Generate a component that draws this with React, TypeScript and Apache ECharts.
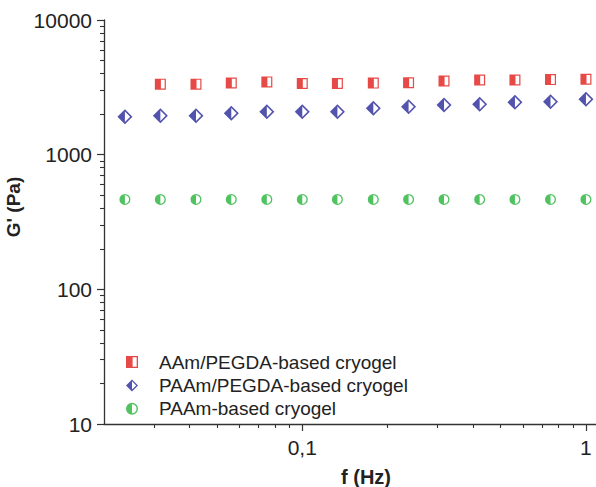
import React, { useEffect, useRef } from "react";
import * as echarts from "echarts";

// Frequencies (Hz)
const freqAAmPEGDA = [0.0316, 0.0422, 0.0562, 0.075, 0.1, 0.133, 0.178, 0.237, 0.316, 0.422, 0.562, 0.75, 1.0];
const freqPAAmPEGDA = [0.0237, 0.0316, 0.0422, 0.0562, 0.075, 0.1, 0.133, 0.178, 0.237, 0.316, 0.422, 0.562, 0.75, 1.0];
const freqPAAm = [0.0237, 0.0316, 0.0422, 0.0562, 0.075, 0.1, 0.133, 0.178, 0.237, 0.316, 0.422, 0.562, 0.75, 1.0];

// G' (Pa)
const gAAmPEGDA = [3340, 3340, 3410, 3470, 3380, 3380, 3400, 3420, 3520, 3580, 3580, 3610, 3630];
const gPAAmPEGDA = [1910, 1945, 1945, 2026, 2083, 2083, 2083, 2207, 2268, 2335, 2364, 2446, 2471, 2574];
const gPAAm = [465, 465, 465, 465, 465, 465, 465, 465, 465, 465, 465, 465, 465, 465];

const seriesNames = ["AAm/PEGDA-based cryogel", "PAAm/PEGDA-based cryogel", "PAAm-based cryogel"];

const xTickValues = [0.1, 1];
const xTickLabels = ["0,1", "1"];
const xMinorTicks = [0.03, 0.04, 0.05, 0.06, 0.07, 0.08, 0.09, 0.2, 0.3, 0.4, 0.5, 0.6, 0.7, 0.8, 0.9];
const yTickValues = [10, 100, 1000, 10000];
const yTickLabels = ["10", "100", "1000", "10000"];
const yMinorTicks = [20, 30, 40, 50, 60, 70, 80, 90, 200, 300, 400, 500, 600, 700, 800, 900, 2000, 3000, 4000, 5000, 6000, 7000, 8000, 9000];

const RED = "#e11d18";
const BLUE = "#272899";
const GREEN = "#24b338";
const FONT = "'Liberation Sans', Arial, sans-serif";
const AXIS_COLOR = "#333";

// Half-filled symbols (left half filled, right half outlined)
const SQUARE = "path://M0 0L100 0L100 100L0 100Z M11 11L11 89L89 89L89 11Z M0 0L55 0L55 100L0 100Z";
const DIAMOND = "path://M50 0L100 50L50 100L0 50Z M50 15L15 50L50 85L85 50Z M50 0L50 100L0 50Z";
const CIRCLE =
  "path://M50 0A50 50 0 0 1 50 100A50 50 0 0 1 50 0Z M50 12A38 38 0 0 0 50 88A38 38 0 0 0 50 12Z M50 0L50 100A50 50 0 0 1 50 0Z";

function labelFor(values: number[], labels: string[], v: number): string {
  let best = 0;
  for (let i = 1; i < values.length; i++) {
    if (Math.abs(Math.log10(values[i]) - Math.log10(v)) < Math.abs(Math.log10(values[best]) - Math.log10(v))) best = i;
  }
  return labels[best];
}

export default function App() {
  const ref = useRef<HTMLDivElement>(null);
  useEffect(() => {
    document.body.style.margin = "0";
    if (!ref.current) return;
    const chart = echarts.init(ref.current, null, { renderer: "svg" });
    const xMin = 0.02;
    const xMax = 1.085;
    const option: any = {
      animation: false,
      backgroundColor: "#fff",
      grid: { left: 104, right: 0, top: 20, bottom: 63, containLabel: false, outerBoundsMode: "none" },
      xAxis: [
        {
          type: "log",
          min: xMin,
          max: xMax,
          position: "bottom",
          name: "f (Hz)",
          nameLocation: "middle",
          nameGap: 43,
          nameTextStyle: { fontFamily: FONT, fontSize: 20, fontWeight: "bold", color: "#222", padding: [0, 0, 0, 32] },
          axisLine: { lineStyle: { color: AXIS_COLOR, width: 1.3 } },
          axisTick: { customValues: xTickValues, length: 7, lineStyle: { color: AXIS_COLOR, width: 1.2 } },
          axisLabel: {
            customValues: xTickValues,
            formatter: (v: number) => labelFor(xTickValues, xTickLabels, v),
            fontFamily: FONT,
            fontSize: 21,
            color: "#222",
            margin: 13,
          },
          splitLine: { show: false },
        },
        {
          type: "log",
          min: xMin,
          max: xMax,
          position: "bottom",
          axisLine: { show: false },
          axisTick: { customValues: xMinorTicks, length: 4, lineStyle: { color: AXIS_COLOR, width: 1.1 } },
          axisLabel: { show: false },
          splitLine: { show: false },
        },
      ],
      yAxis: [
        {
          type: "log",
          min: 10,
          max: 10000,
          position: "left",
          name: "G' (Pa)",
          nameLocation: "middle",
          nameGap: 65,
          nameTextStyle: { fontFamily: FONT, fontSize: 19, fontWeight: "bold", color: "#222", padding: [0, 0, 0, 30] },
          axisLine: { show: true, lineStyle: { color: AXIS_COLOR, width: 1.3 } },
          axisTick: { show: true, customValues: yTickValues, length: 7, lineStyle: { color: AXIS_COLOR, width: 1.2 } },
          axisLabel: {
            customValues: yTickValues,
            formatter: (v: number) => labelFor(yTickValues, yTickLabels, v),
            fontFamily: FONT,
            fontSize: 21,
            color: "#222",
            margin: 12,
          },
          splitLine: { show: false },
        },
        {
          type: "log",
          min: 10,
          max: 10000,
          position: "left",
          axisLine: { show: false },
          axisTick: { show: true, customValues: yMinorTicks, length: 4, lineStyle: { color: AXIS_COLOR, width: 1.1 } },
          axisLabel: { show: false },
          splitLine: { show: false },
        },
      ],
      legend: {
        orient: "vertical",
        left: 121,
        top: 347.5,
        itemWidth: 14,
        itemHeight: 12,
        itemGap: 4.4,
        textStyle: { fontFamily: FONT, fontSize: 19, color: "#222", lineHeight: 19, padding: [0, 0, 0, 15] },
        data: [
          { name: seriesNames[0], icon: SQUARE },
          { name: seriesNames[1], icon: DIAMOND },
          { name: seriesNames[2], icon: CIRCLE },
        ],
      },
      series: [
        {
          type: "scatter",
          name: seriesNames[0],
          xAxisIndex: 0,
          yAxisIndex: 0,
          symbol: SQUARE,
          symbolSize: 11,
          itemStyle: { color: RED },
          data: freqAAmPEGDA.map((f, i) => [f, gAAmPEGDA[i]]),
        },
        {
          type: "scatter",
          name: seriesNames[1],
          xAxisIndex: 0,
          yAxisIndex: 0,
          symbol: DIAMOND,
          symbolSize: 15,
          itemStyle: { color: BLUE },
          data: freqPAAmPEGDA.map((f, i) => [f, gPAAmPEGDA[i]]),
        },
        {
          type: "scatter",
          name: seriesNames[2],
          xAxisIndex: 0,
          yAxisIndex: 0,
          symbol: CIRCLE,
          symbolSize: 11,
          itemStyle: { color: GREEN },
          data: freqPAAm.map((f, i) => [f, gPAAm[i]]),
        },
      ],
    };
    chart.setOption(option);
    return () => chart.dispose();
  }, []);
  return <div ref={ref} style={{ width: 596, height: 487 }} />;
}
